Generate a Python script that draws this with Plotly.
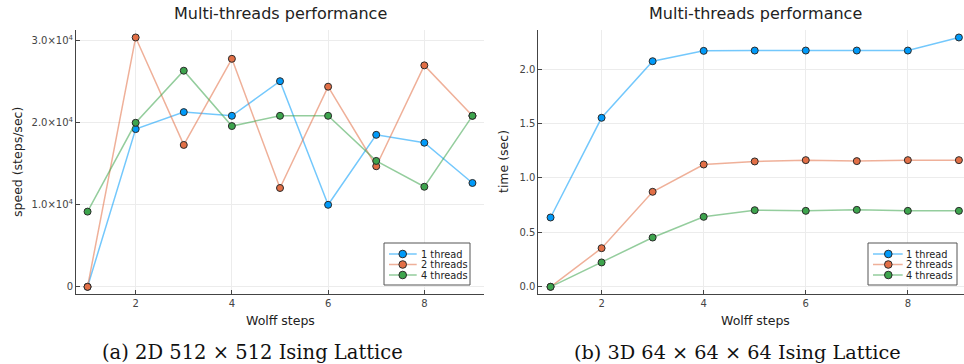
import plotly.graph_objects as go

steps = [1, 2, 3, 4, 5, 6, 7, 8, 9]
series_names = ["1 thread", "2 threads", "4 threads"]

# (a) 2D 512x512: speed (steps/sec)
speed_1 = [0, 19230, 21300, 20850, 25070, 10000, 18530, 17570, 12660]
speed_2 = [0, 30400, 17300, 27800, 12050, 24400, 14700, 27000, 20850]
speed_4 = [9170, 20000, 26350, 19600, 20850, 20850, 15350, 12200, 20850]

# (b) 3D 64x64x64: time (sec)
time_1 = [0.637, 1.553, 2.073, 2.168, 2.171, 2.171, 2.171, 2.171, 2.291]
time_2 = [0.0, 0.355, 0.873, 1.124, 1.152, 1.164, 1.155, 1.164, 1.164]
time_4 = [0.0, 0.224, 0.453, 0.643, 0.704, 0.698, 0.707, 0.698, 0.698]

x_ticks = [2, 4, 6, 8]
speed_ticks = [0, 10000, 20000, 30000]
speed_tick_text = ["0", "1.0×10<sup>4</sup>", "2.0×10<sup>4</sup>", "3.0×10<sup>4</sup>"]
time_ticks = [0.0, 0.5, 1.0, 1.5, 2.0]
time_tick_text = ["0.0", "0.5", "1.0", "1.5", "2.0"]

marker_colors = ["#009af9", "#e26f46", "#3da44d"]
line_colors = ["rgba(0,154,249,0.55)", "rgba(226,111,70,0.55)", "rgba(61,164,77,0.55)"]

W, H = 964, 364


def px(x):
    return x / W


def py(y):
    return (H - y) / H


fig = go.Figure()

for i, (name, ys) in enumerate(zip(series_names, [speed_1, speed_2, speed_4])):
    fig.add_trace(go.Scatter(
        x=steps, y=ys, name=name, mode="lines+markers",
        line=dict(color=line_colors[i], width=1.5),
        marker=dict(color=marker_colors[i], size=7, line=dict(color="#2a2a2a", width=1)),
        xaxis="x", yaxis="y", cliponaxis=False, showlegend=False,
    ))
for i, (name, ys) in enumerate(zip(series_names, [time_1, time_2, time_4])):
    fig.add_trace(go.Scatter(
        x=steps, y=ys, name=name, mode="lines+markers",
        line=dict(color=line_colors[i], width=1.5),
        marker=dict(color=marker_colors[i], size=7, line=dict(color="#2a2a2a", width=1)),
        xaxis="x2", yaxis="y2", cliponaxis=False, showlegend=False,
    ))

ydom = [py(294.3), py(30)]
axis_common = dict(
    showline=True, linecolor="#444", linewidth=1, mirror=False,
    showgrid=True, gridcolor="#ececec", gridwidth=1, zeroline=False,
    ticks="inside", ticklen=4, tickcolor="#444", tickwidth=1,
    tickfont=dict(family="DejaVu Sans", size=10, color="#444"),
)


def ymargin(lo, hi):
    m = (hi - lo) * 0.03
    return [lo - m, hi + m]


fig.update_layout(
    width=W, height=H,
    margin=dict(l=0, r=0, t=0, b=0),
    paper_bgcolor="white", plot_bgcolor="white",
    font=dict(family="DejaVu Sans", color="#222"),
    showlegend=False,
    xaxis=dict(domain=[px(76), px(484)], range=[0.76, 9.24], tickvals=x_ticks,
               anchor="y", **axis_common),
    yaxis=dict(domain=ydom, range=ymargin(0, max(speed_2)), tickvals=speed_ticks,
               ticktext=speed_tick_text, anchor="x", **axis_common),
    xaxis2=dict(domain=[px(538.3), 1.0], range=[0.76, 9.1], tickvals=x_ticks,
                anchor="y2", **axis_common),
    yaxis2=dict(domain=ydom, range=ymargin(0, max(time_1)), tickvals=time_ticks,
                ticktext=time_tick_text, anchor="x2", **axis_common),
)

ann = []
shapes = []


def text(t, x, y, size, anchor="center", angle=0, family="DejaVu Sans", color="#222"):
    ann.append(dict(text=t, x=px(x), y=py(y), xref="paper", yref="paper", showarrow=False,
                    textangle=angle, font=dict(family=family, size=size, color=color),
                    xanchor=anchor, yanchor="middle"))


text("Multi-threads performance", 280, 14, 16)
text("Multi-threads performance", 755, 14, 16)
text("Wolff steps", 280, 320, 12.5)
text("Wolff steps", 755, 320, 12.5)
text("speed (steps/sec)", 17, 162, 12.5, angle=-90)
text("time (sec)", 503, 162, 12.5, angle=-90)
text("(a) 2D 512 × 512 Ising Lattice", 252, 352, 19.5, family="DejaVu Serif", color="#111")
text("(b) 3D 64 × 64 × 64 Ising Lattice", 737.5, 352, 19.3, family="DejaVu Serif", color="#111")


def legend_box(x0, x1, y0, y1, lx0, lx1, mx, tx, rows):
    shapes.append(dict(type="rect", xref="paper", yref="paper",
                       x0=px(x0), x1=px(x1), y0=py(y1), y1=py(y0),
                       line=dict(color="#555", width=1), fillcolor="white", layer="above"))
    r = 3.8
    for i, yy in enumerate(rows):
        shapes.append(dict(type="line", xref="paper", yref="paper",
                           x0=px(lx0), x1=px(lx1), y0=py(yy), y1=py(yy),
                           line=dict(color=line_colors[i], width=1.5), layer="above"))
        shapes.append(dict(type="circle", xref="paper", yref="paper",
                           x0=px(mx - r), x1=px(mx + r), y0=py(yy + r), y1=py(yy - r),
                           fillcolor=marker_colors[i], line=dict(color="#2a2a2a", width=1),
                           layer="above"))
        text(series_names[i], tx, yy, 9.8, anchor="left")


legend_box(384, 470, 243, 285, 389, 416.7, 402.7, 418.5, [254, 264.5, 275])
legend_box(868, 957, 243, 285, 873, 902.7, 888.3, 904, [254, 264.5, 275])

fig.update_layout(annotations=ann, shapes=shapes)

fig.write_html("out.html", config={"displayModeBar": False},
               post_script="document.body.style.margin='0';")
